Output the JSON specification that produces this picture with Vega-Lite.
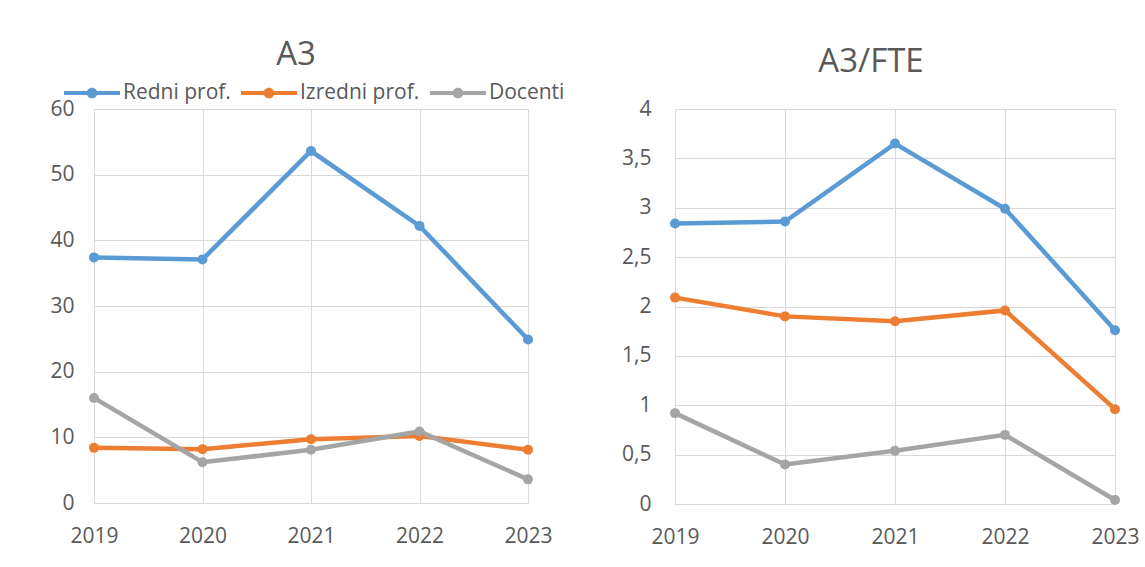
{
  "$schema": "https://vega.github.io/schema/vega-lite/v6.json",
  "background": "white",
  "padding": {"left": 49, "top": 38, "right": 0, "bottom": 0},
  "spacing": 147,
  "bounds": "flush",
  "datasets": {
    "a3": [
      {"year": "2019", "series": "Redni prof.", "value": 37.4},
      {"year": "2020", "series": "Redni prof.", "value": 37.1},
      {"year": "2021", "series": "Redni prof.", "value": 53.6},
      {"year": "2022", "series": "Redni prof.", "value": 42.2},
      {"year": "2023", "series": "Redni prof.", "value": 24.9},
      {"year": "2019", "series": "Izredni prof.", "value": 8.4},
      {"year": "2020", "series": "Izredni prof.", "value": 8.2},
      {"year": "2021", "series": "Izredni prof.", "value": 9.7},
      {"year": "2022", "series": "Izredni prof.", "value": 10.2},
      {"year": "2023", "series": "Izredni prof.", "value": 8.1},
      {"year": "2019", "series": "Docenti", "value": 16.0},
      {"year": "2020", "series": "Docenti", "value": 6.2},
      {"year": "2021", "series": "Docenti", "value": 8.1},
      {"year": "2022", "series": "Docenti", "value": 10.9},
      {"year": "2023", "series": "Docenti", "value": 3.6}
    ],
    "fte": [
      {"year": "2019", "series": "Redni prof.", "value": 2.84},
      {"year": "2020", "series": "Redni prof.", "value": 2.86},
      {"year": "2021", "series": "Redni prof.", "value": 3.65},
      {"year": "2022", "series": "Redni prof.", "value": 2.99},
      {"year": "2023", "series": "Redni prof.", "value": 1.76},
      {"year": "2019", "series": "Izredni prof.", "value": 2.09},
      {"year": "2020", "series": "Izredni prof.", "value": 1.90},
      {"year": "2021", "series": "Izredni prof.", "value": 1.85},
      {"year": "2022", "series": "Izredni prof.", "value": 1.96},
      {"year": "2023", "series": "Izredni prof.", "value": 0.96},
      {"year": "2019", "series": "Docenti", "value": 0.92},
      {"year": "2020", "series": "Docenti", "value": 0.40},
      {"year": "2021", "series": "Docenti", "value": 0.54},
      {"year": "2022", "series": "Docenti", "value": 0.70},
      {"year": "2023", "series": "Docenti", "value": 0.04}
    ]
  },
  "config": {
    "font": "Open Sans",
    "view": {"stroke": "#d9d9d9", "strokeWidth": 1},
    "axis": {
      "gridColor": "#d9d9d9",
      "gridWidth": 1,
      "domain": false,
      "ticks": false,
      "labelColor": "#595959",
      "labelFontSize": 21,
      "labelFont": "Open Sans",
      "title": null
    },
    "title": {"fontSize": 33, "color": "#595959", "fontWeight": "normal", "font": "Open Sans"},
    "legend": {
      "labelFontSize": 21,
      "labelColor": "#595959",
      "labelFont": "Open Sans",
      "labelLimit": 300
    }
  },
  "hconcat": [
    {
      "width": 434,
      "height": 394,
      "title": {"text": "A3", "offset": 26, "anchor": "middle", "frame": "group", "dx": -15},
      "data": {"name": "a3"},
      "encoding": {
        "x": {"field": "year", "type": "ordinal", "scale": {"type": "point", "padding": 0}, "axis": {"labelAngle": 0, "labelPadding": 22, "grid": true}},
        "y": {"field": "value", "type": "quantitative", "scale": {"domain": [0, 60]}, "axis": {"values": [0, 10, 20, 30, 40, 50, 60], "labelPadding": 20}},
        "color": {
          "field": "series", "type": "nominal",
          "scale": {"domain": ["Redni prof.", "Izredni prof.", "Docenti"], "range": ["#5B9BD5", "#ED7D31", "#A5A5A5"]},
          "legend": {
            "orient": "none", "legendX": -30, "legendY": -44, "direction": "horizontal", "title": null,
            "symbolType": "M-1,-0.075L1,-0.075L1,0.075L-1,0.075Z M-0.19,0 A0.19,0.19 0 1,1 0.19,0 A0.19,0.19 0 1,1 -0.19,0 Z",
            "symbolSize": 3136, "symbolStrokeWidth": 0, "labelOffset": 3, "columnPadding": 10
          }
        }
      },
      "layer": [
        {"mark": {"type": "line", "strokeWidth": 4.5}},
        {"mark": {"type": "point", "filled": true, "opacity": 1, "size": 100}}
      ]
    },
    {
      "width": 440,
      "height": 395,
      "title": {"text": "A3/FTE", "offset": 19, "anchor": "middle", "frame": "group", "dx": -24},
      "data": {"name": "fte"},
      "encoding": {
        "x": {"field": "year", "type": "ordinal", "scale": {"type": "point", "padding": 0}, "axis": {"labelAngle": 0, "labelPadding": 22, "grid": true}},
        "y": {"field": "value", "type": "quantitative", "scale": {"domain": [0, 4]}, "axis": {"values": [0, 0.5, 1, 1.5, 2, 2.5, 3, 3.5, 4], "labelPadding": 24, "labelExpr": "replace('' + datum.value, '.', ',')"}},
        "color": {
          "field": "series", "type": "nominal",
          "scale": {"domain": ["Redni prof.", "Izredni prof.", "Docenti"], "range": ["#5B9BD5", "#ED7D31", "#A5A5A5"]},
          "legend": null
        }
      },
      "layer": [
        {"mark": {"type": "line", "strokeWidth": 4.5}},
        {"mark": {"type": "point", "filled": true, "opacity": 1, "size": 100}}
      ]
    }
  ]
}
